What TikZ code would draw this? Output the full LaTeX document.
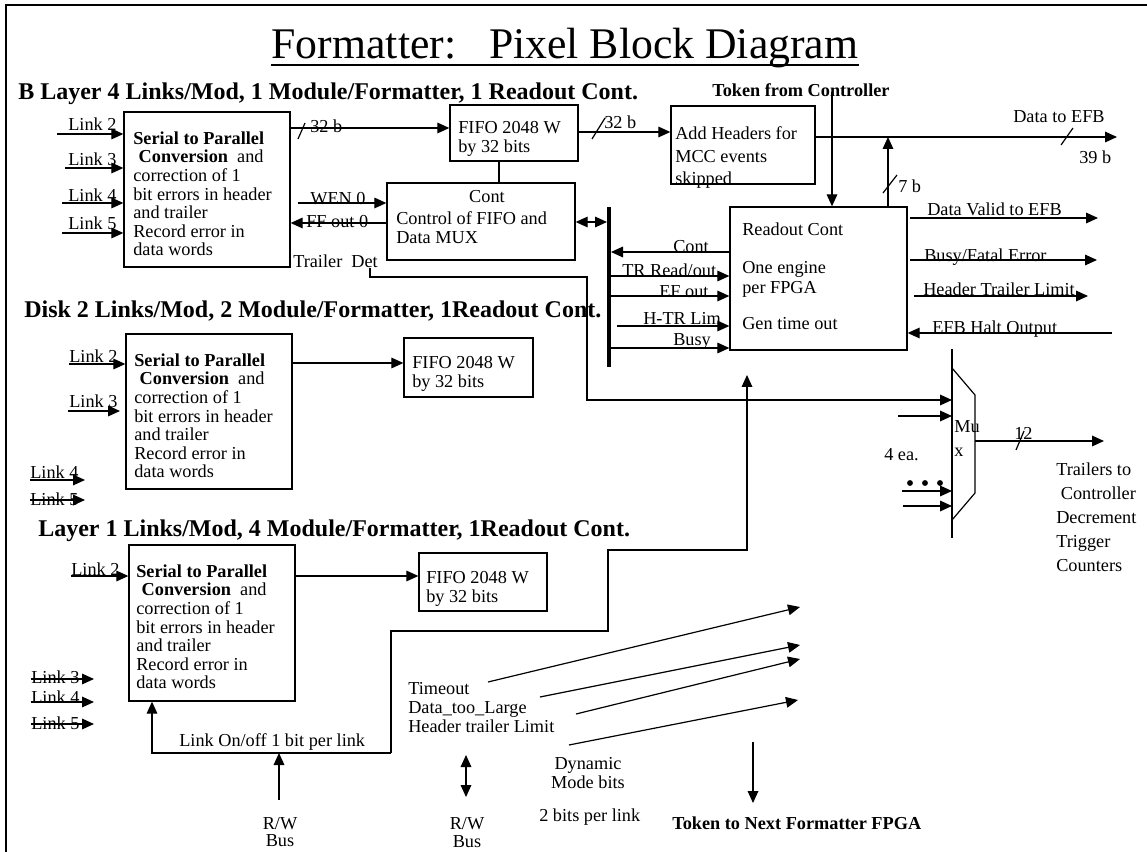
\documentclass[tikz,border=0pt]{standalone}
\usepackage{fontspec}
\setmainfont{Liberation Serif}
\usetikzlibrary{arrows.meta,fit,calc}
\newcommand\bodyfont{\fontsize{13.7pt}{13.9pt}\selectfont}
\newcommand\headfont{\fontsize{18pt}{20pt}\selectfont\bfseries}
\newcommand\ttlfont{\fontsize{32.8pt}{36pt}\selectfont}
\begin{document}
\begin{tikzpicture}[x=0.75pt,y=-0.75pt,
  box/.style={draw,line width=1pt,inner sep=0pt},
  txt/.style={inner sep=0pt,anchor=base west,font=\bodyfont},
  ctxt/.style={inner sep=0pt,anchor=base,font=\bodyfont},
  multi/.style={inner sep=0pt,anchor=north west,align=left,font=\bodyfont},
  cmulti/.style={inner sep=0pt,anchor=north,align=center,font=\bodyfont},
  head/.style={inner sep=0pt,anchor=base west,font=\headfont},
  ln/.style={line width=0.9pt},
  arr/.style={line width=0.9pt,-{Triangle[length=9pt,width=8pt]}},
  dbl/.style={line width=0.9pt,{Triangle[length=9pt,width=8pt]}-{Triangle[length=9pt,width=8pt]}},
]
\useasboundingbox (0,0) rectangle (1147,852);
\draw[line width=1pt] (6,852) -- (6,5) -- (1147,5);

% title and headings
\node[inner sep=0pt,anchor=base,font=\ttlfont] (title) at (565,59) {Formatter:\ \ \ Pixel Block Diagram};
\draw[line width=1.3pt] ($(title.base west)+(0,6)$) -- ($(title.base east)+(0,6)$);
\node[head] (h1) at (18,100) {B Layer 4 Links/Mod, 1 Module/Formatter, 1 Readout Cont.};
\node[head] (h2) at (24,318) {Disk 2 Links/Mod, 2 Module/Formatter, 1Readout Cont.};
\node[head] (h3) at (38,537) {Layer 1 Links/Mod, 4 Module/Formatter, 1Readout Cont.};
\node[txt,font=\bodyfont\bfseries] (tok) at (712,97) {Token from Controller};

% ---------- section 1 ----------
\node[box,fit={(124,112) (290,267)}] (s1) {};
\node[multi] (s1t) at (133,131.5) {\textbf{Serial to Parallel}\\\hspace*{0.3em}\textbf{Conversion}\ \ and\\correction of 1\\bit errors in header\\and trailer\\Record error in\\data words};
\node[box,fit={(450,105) (578,161)}] (f1) {};
\node[multi] (f1t) at (458,121.5) {FIFO 2048 W\\by 32 bits};
\node[box,fit={(671,106) (815,184)}] (ah) {};
\node[multi,font=\fontsize{13.7pt}{16.9pt}\selectfont] (aht) at (675,126.5) {Add Headers for\\MCC events\\skipped};
\node[box,fit={(387,183) (575,260)}] (ct) {};
\node[ctxt] (ct1) at (487,203) {Cont};
\node[txt] (ct2) at (396,225) {Control of FIFO and};
\node[txt] (ct3) at (396,244) {Data MUX};
\node[box,fit={(730,207) (907,350)}] (ro) {};
\node[txt] (ro1) at (742,236) {Readout Cont};
\node[txt] (ro2) at (742,274) {One engine};
\node[txt] (ro3) at (742,294) {per FPGA};
\node[txt] (ro4) at (742,330) {Gen time out};

% links into s1
\coordinate (a12) at (57,134);
\coordinate (a13) at (65,168);
\coordinate (a14) at (62,203);
\coordinate (a15) at (62,233);
\draw[arr] (a12) -- (s1.west |- a12);
\draw[arr] (a13) -- (s1.west |- a13);
\draw[arr] (a14) -- (s1.west |- a14);
\draw[arr] (a15) -- (s1.west |- a15);
\node[txt] (t12) at (68,131) {Link 2};
\node[txt] (t13) at (68,166) {Link 3};
\node[txt] (t14) at (68,202) {Link 4};
\node[txt] (t15) at (68,230) {Link 5};

% data path
\draw[arr] (s1.east |- 0,128) -- (f1.west |- 0,128);
\draw[ln] (298,139) -- (305,123);
\node[txt] (b32a) at (310,133) {32 b};
\draw[arr] (f1.east |- 0,132) -- (ah.west |- 0,132);
\draw[ln] (592,139) -- (605,118);
\node[txt] (b32b) at (604,129) {32 b};
\draw[ln] (f1.south -| 499,0) -- (ct.north -| 499,0);
\coordinate (wen) at (298,203);
\draw[arr] (wen) -- (ct.west |- wen);
\node[txt] (went) at (310,205) {WEN 0};
\draw[arr] (ct.west |- 0,223) -- (s1.east |- 0,223);
\node[txt] (fft) at (306,228) {FF out 0};
\node[txt] (tdt) at (293,268) {Trailer\ \ Det};

% token and outputs
\coordinate (tokc) at (832,92);
\draw[arr] (tokc) -- (ro.north -| tokc);
\coordinate (efb) at (1117,137);
\draw[arr] (ah.east |- efb) -- (efb);
\draw[ln] (1061,145) -- (1073,128);
\node[txt] (efbt) at (1013,123) {Data to EFB};
\node[txt] (b39) at (1079,164) {39 b};
\coordinate (b7) at (888,137);
\draw[arr] (ro.north -| b7) -- (b7);
\draw[ln] (883,193) -- (897,175);
\node[txt] (b7t) at (898,193) {7 b};

\coordinate (o1) at (1098,218);
\draw[arr] (910,218) -- (o1);
\node[txt] (o1t) at (927,216) {Data Valid to EFB};
\coordinate (o2) at (1097,260);
\draw[arr] (910,260) -- (o2);
\node[txt] (o2t) at (924,262) {Busy/Fatal Error};
\coordinate (o3) at (1088,296);
\draw[arr] (914,296) -- (o3);
\node[txt] (o3t) at (923,296) {Header Trailer Limit};
\coordinate (o4) at (1112,333);
\draw[arr] (o4) -- (ro.east |- o4);
\node[txt] (o4t) at (932,334) {EFB Halt Output};

% bus
\coordinate (busT) at (609,207);
\coordinate (busB) at (609,367);
\draw[line width=3pt] (busT) -- (busB);
\coordinate (busR) at (611,207);
\coordinate (busL) at (607,207);
\draw[dbl] (ct.east |- 0,222) -- (busL |- 0,222);
\draw[arr] (ro.west |- 0,252) -- (busR |- 0,252);
\node[txt] (bc) at (673,253) {Cont};
\draw[arr] (busR |- 0,276) -- (ro.west |- 0,276);
\node[txt] (btr) at (622,277) {TR Read/out};
\draw[arr] (busR |- 0,296) -- (ro.west |- 0,296);
\node[txt] (bef) at (659,298) {EF out};
\draw[arr] (617,326) -- (ro.west |- 0,326);
\node[txt] (bht) at (643,325) {H-TR Lim};
\draw[arr] (busR |- 0,348) -- (ro.west |- 0,348);
\node[txt] (bbu) at (673,346) {Busy};

% mux
\coordinate (muxT) at (952,349);
\coordinate (muxB) at (952,538);
\draw[ln] (muxT) -- (muxB);
\draw[ln] (952,368) -- (975,395) -- (975,493) -- (952,520);
\node[txt] (mu1) at (954,433) {Mu};
\node[txt] (mu2) at (954,456) {x};
\draw[arr] (370,268) -- (370,277) -- (587,277) -- (587,400) -- (muxT |- 0,400);
\draw[arr] (898,416) -- (muxT |- 0,416);
\node[txt] (ea) at (884,460) {4 ea.};
\fill (910,483) circle (2.2pt) (925,483) circle (2.2pt) (940,483) circle (2.2pt);
\draw[arr] (902,491) -- (muxT |- 0,491);
\draw[arr] (903,506) -- (muxT |- 0,506);
\coordinate (mo) at (1104,441);
\draw[arr] (975,441) -- (mo);
\draw[ln] (1016,450) -- (1024,431);
\node[txt] (n12) at (1014,440) {12};
\node[multi,font=\fontsize{13.7pt}{18pt}\selectfont] (trl) at (1056,462.5) {Trailers to\\\hspace*{0.25em}Controller\\Decrement\\Trigger\\Counters};

% ---------- section 2 ----------
\node[box,fit={(126,334) (292,489)}] (s2) {};
\node[multi] (s2t) at (134,353.5) {\textbf{Serial to Parallel}\\\hspace*{0.3em}\textbf{Conversion}\ \ and\\correction of 1\\bit errors in header\\and trailer\\Record error in\\data words};
\node[box,fit={(404,338) (533,397)}] (f2) {};
\node[multi] (f2t) at (412,356.5) {FIFO 2048 W\\by 32 bits};
\draw[arr] (s2.east |- 0,363) -- (f2.west |- 0,363);
\coordinate (a22) at (69,364);
\coordinate (a23) at (68,411);
\draw[arr] (a22) -- (s2.west |- a22);
\draw[arr] (a23) -- (120,411);
\node[txt] (t22) at (69,363) {Link 2};
\node[txt] (t23) at (69,407) {Link 3};
\coordinate (a24) at (30,480);
\coordinate (a25) at (30,500);
\draw[arr] (a24) -- (85,480);
\draw[arr] (a25) -- (85,500);
\node[txt] (t24) at (30,479) {Link 4};
\node[txt] (t25) at (30,505) {Link 5};

% ---------- section 3 ----------
\node[box,fit={(129,545) (295,701)}] (s3) {};
\node[multi] (s3t) at (136,564.5) {\textbf{Serial to Parallel}\\\hspace*{0.3em}\textbf{Conversion}\ \ and\\correction of 1\\bit errors in header\\and trailer\\Record error in\\data words};
\node[box,fit={(419,553) (547,611)}] (f3) {};
\node[multi] (f3t) at (426,571.5) {FIFO 2048 W\\by 32 bits};
\draw[arr] (s3.east |- 0,576) -- (f3.west |- 0,576);
\coordinate (a32) at (71,576);
\draw[arr] (a32) -- (s3.west |- a32);
\node[txt] (t32) at (71,575) {Link 2};
\draw[arr] (31,679) -- (94,679);
\draw[arr] (31,702) -- (94,702);
\draw[arr] (31,724) -- (94,724);
\node[txt] (t33) at (31,683) {Link 3};
\node[txt] (t34) at (31,703) {Link 4};
\node[txt] (t35) at (31,729) {Link 5};

% link on/off and bus
\coordinate (jn) at (391,753);
\draw[arr] (jn) -- (152,753) -- (s3.south -| 152,0);
\coordinate (up) at (747,375);
\draw[arr] (jn) -- (391,631) -- (608,631) -- (608,550) -- (747,550) -- (up);
\node[txt] (lof) at (179,746) {Link On/off 1 bit per link};
\coordinate (rw1) at (279,800);
\draw[arr] (rw1) -- (rw1 |- jn);
\node[cmulti,font=\fontsize{13.7pt}{13pt}\selectfont] (rw1t) at (280,817) {R/W\\Bus};
\coordinate (rw2a) at (466,755);
\coordinate (rw2b) at (466,797);
\draw[dbl] (rw2a) -- (rw2b);
\node[cmulti,font=\fontsize{13.7pt}{14pt}\selectfont] (rw2t) at (467,817) {R/W\\Bus};

\node[multi,font=\fontsize{13.7pt}{14.25pt}\selectfont] (tmo) at (408,682) {Timeout\\Data\_too\_Large\\Header trailer Limit};
\coordinate (d1) at (488,682);
\coordinate (d2) at (540,697);
\coordinate (d3) at (576,714);
\coordinate (d4) at (569,745);
\draw[arr] (d1) -- (800,607);
\draw[arr] (d2) -- (800,645);
\draw[arr] (d3) -- (800,659);
\draw[arr] (d4) -- (798,700);
\node[cmulti,font=\fontsize{13.7pt}{14.25pt}\selectfont] (dyn) at (588,757.5) {Dynamic\\Mode bits};
\node[txt] (bpl) at (539,821) {2 bits per link};
\coordinate (tn) at (753,742);
\draw[arr] (tn) -- (753,803);
\node[txt,font=\bodyfont\bfseries] (tnt) at (672,829) {Token to Next Formatter FPGA};
\end{tikzpicture}
\end{document}
